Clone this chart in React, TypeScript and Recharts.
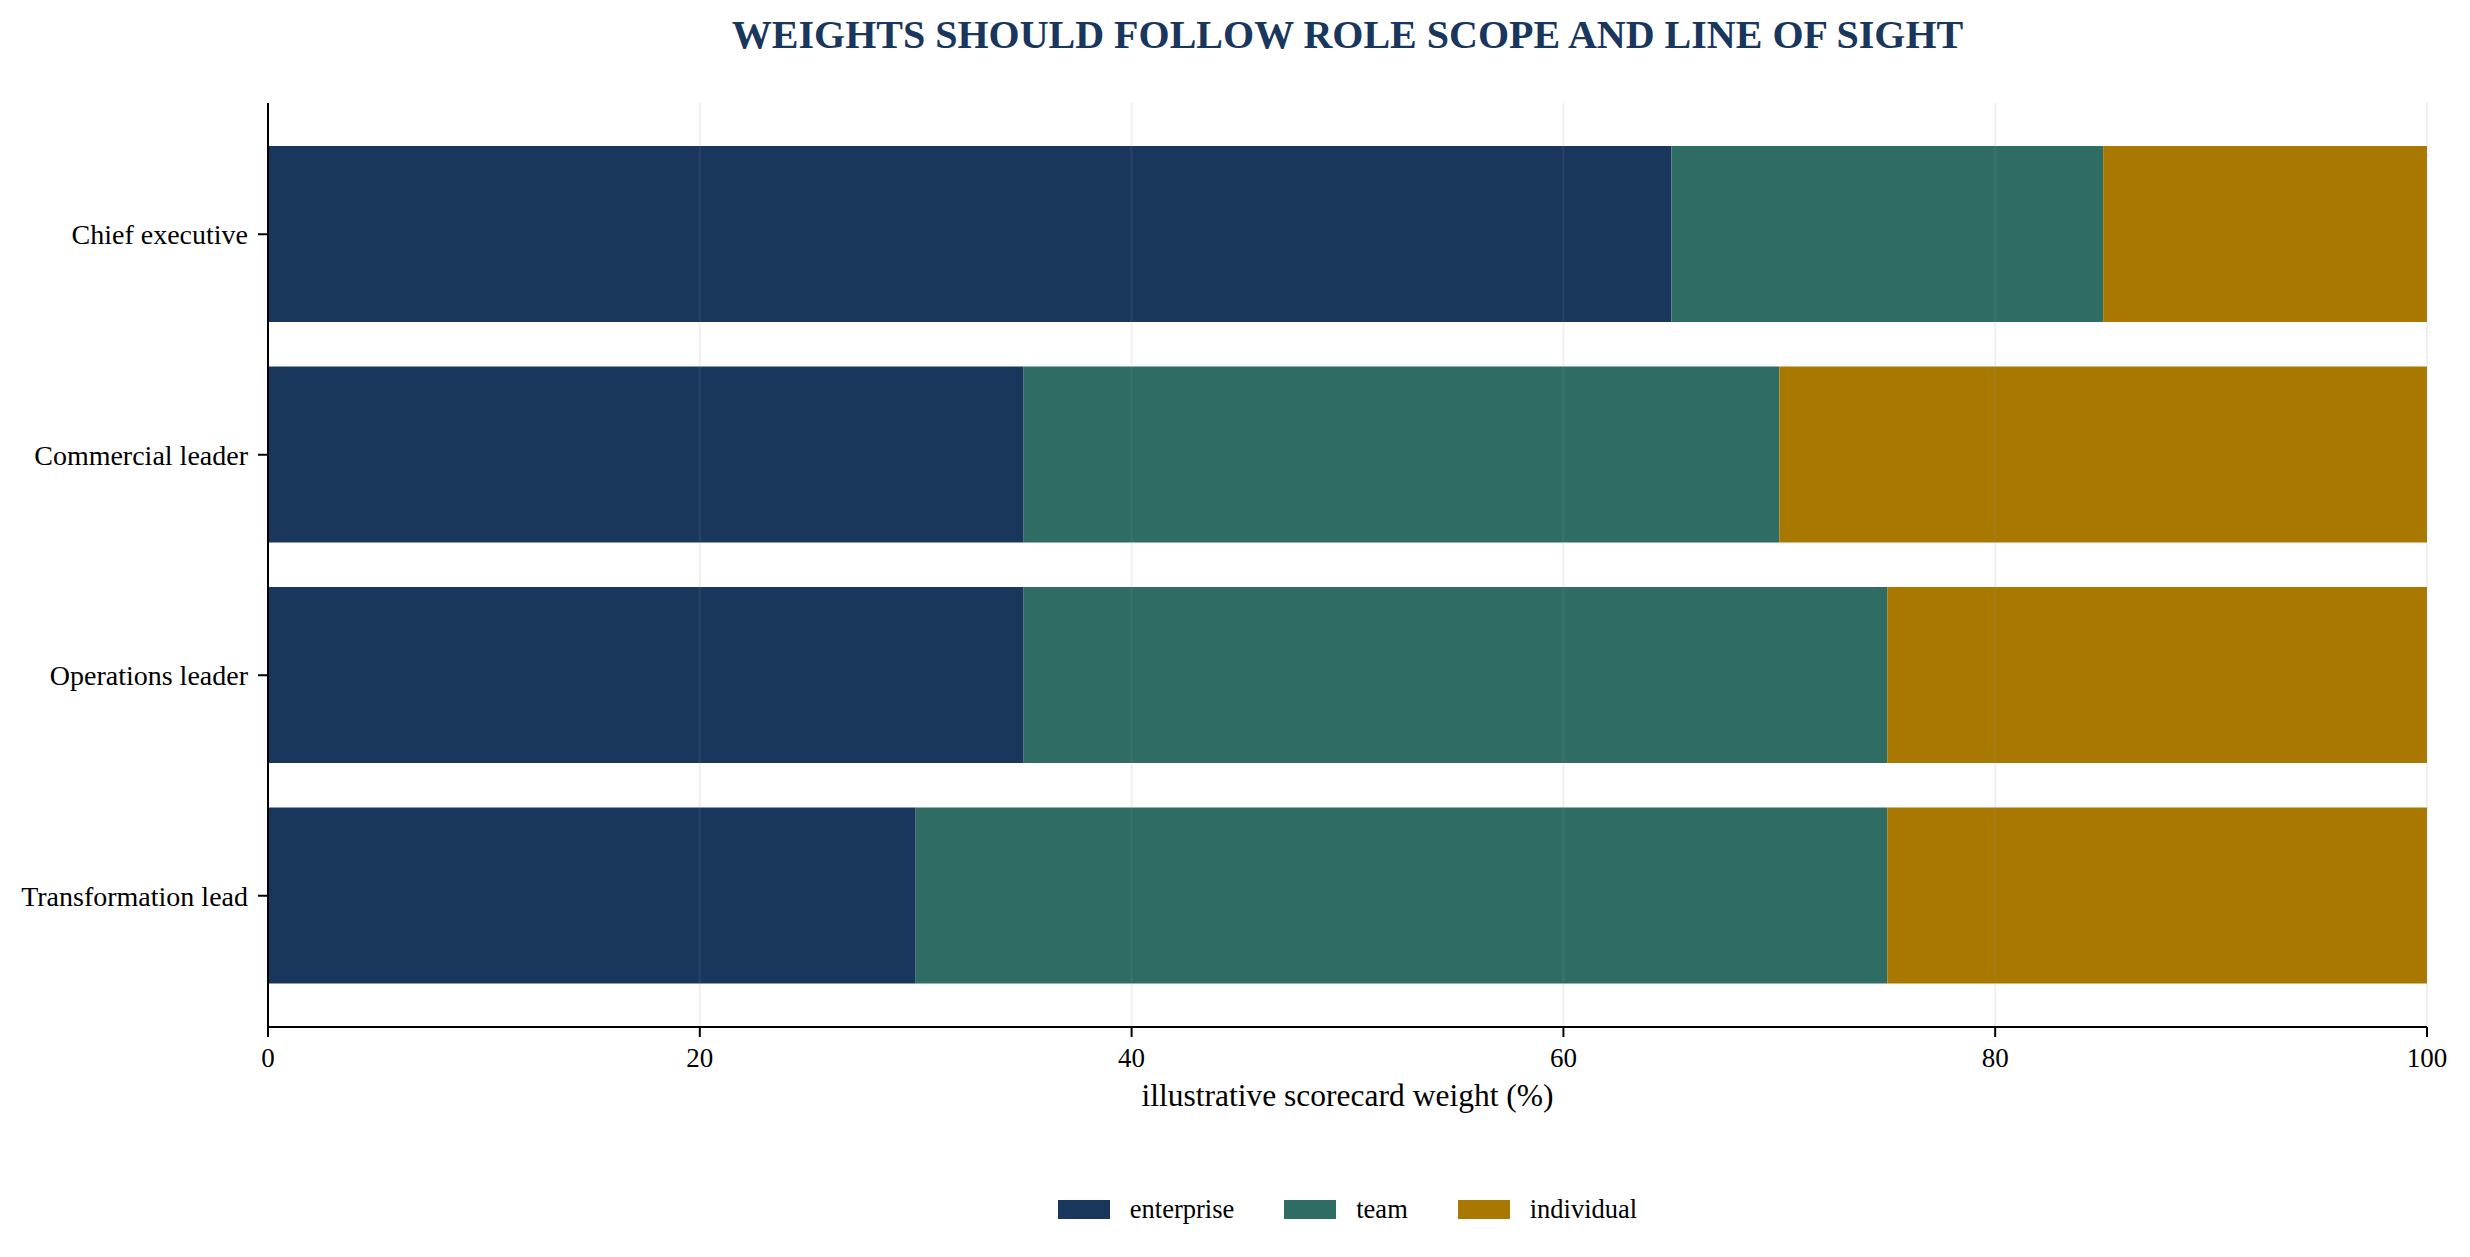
import React from "react";
import { BarChart, Bar, XAxis, YAxis, ReferenceLine, Label } from "recharts";

const roles = ["Chief executive", "Commercial leader", "Operations leader", "Transformation lead"];
const enterprise = [65, 35, 35, 30];
const team = [20, 35, 40, 45];
const individual = [15, 30, 25, 25];
const xTicks = [0, 20, 40, 60, 80, 100];

const seriesKeys = ["enterprise", "team", "individual"];
const seriesColors = ["#19365d", "#2f6d64", "#a87800"];

const data = roles.map((role, i) => ({
  role,
  enterprise: enterprise[i],
  team: team[i],
  individual: individual[i],
}));

const FONT = "'Liberation Serif', 'Times New Roman', Times, serif";

const W = 2470;
const H = 1257;
const PLOT_LEFT = 268;
const PLOT_RIGHT_MARGIN = 43;

export default function App() {
  return (
    <div style={{ position: "absolute", left: 0, top: 0, width: W, height: H, background: "#ffffff", fontFamily: FONT }}>
      <div
        style={{
          position: "absolute",
          left: PLOT_LEFT,
          width: W - PLOT_LEFT - PLOT_RIGHT_MARGIN,
          top: 12,
          textAlign: "center",
          fontSize: 40,
          fontWeight: "bold",
          color: "#19365d",
          lineHeight: "46px",
        }}
      >
        WEIGHTS SHOULD FOLLOW ROLE SCOPE AND LINE OF SIGHT
      </div>
      <BarChart
        width={W}
        height={H}
        data={data}
        layout="vertical"
        margin={{ top: 103, right: PLOT_RIGHT_MARGIN, bottom: 130, left: 0 }}
        barCategoryGap="10%"
        style={{ position: "absolute", left: 0, top: 0 }}
      >
        <XAxis
          type="number"
          domain={[0, 100]}
          ticks={xTicks}
          height={100}
          axisLine={{ stroke: "#000", strokeWidth: 2 }}
          tickLine={{ stroke: "#000", strokeWidth: 2 }}
          tickSize={10}
          tickMargin={11}
          tick={{ fill: "#000", fontSize: 27, fontFamily: FONT }}
        >
          <Label
            content={(props: any) => {
              const vb = props.viewBox || {};
              return (
                <text
                  x={vb.x + vb.width / 2}
                  y={vb.y + 79}
                  textAnchor="middle"
                  fill="#000"
                  fontSize={31.5}
                  fontFamily={FONT}
                >
                  illustrative scorecard weight (%)
                </text>
              );
            }}
          />
        </XAxis>
        <YAxis
          type="category"
          dataKey="role"
          width={PLOT_LEFT}
          padding={{ top: 21, bottom: 21 }}
          axisLine={{ stroke: "#000", strokeWidth: 2 }}
          tickLine={{ stroke: "#000", strokeWidth: 2 }}
          tickSize={10}
          tickMargin={10}
          tick={{ fill: "#000", fontSize: 28, fontFamily: FONT }}
        />
        {seriesKeys.map((k, i) => (
          <Bar key={k} dataKey={k} stackId="w" fill={seriesColors[i]} isAnimationActive={false} />
        ))}
        {xTicks.slice(1).map((t) => (
          <ReferenceLine key={t} x={t} stroke="#919191" strokeOpacity={0.14} strokeWidth={2} />
        ))}
      </BarChart>
      <div
        style={{
          position: "absolute",
          left: PLOT_LEFT,
          width: W - PLOT_LEFT - PLOT_RIGHT_MARGIN,
          top: 1192,
          height: 35,
          display: "flex",
          justifyContent: "center",
          alignItems: "center",
        }}
      >
        {seriesKeys.map((k, i) => (
          <div key={k} style={{ display: "flex", alignItems: "center", marginRight: i < seriesKeys.length - 1 ? 50 : 0 }}>
            <div style={{ width: 52, height: 19, background: seriesColors[i], marginRight: 20 }} />
            <span style={{ fontSize: 26.5, color: "#000", lineHeight: "35px" }}>{k}</span>
          </div>
        ))}
      </div>
    </div>
  );
}
